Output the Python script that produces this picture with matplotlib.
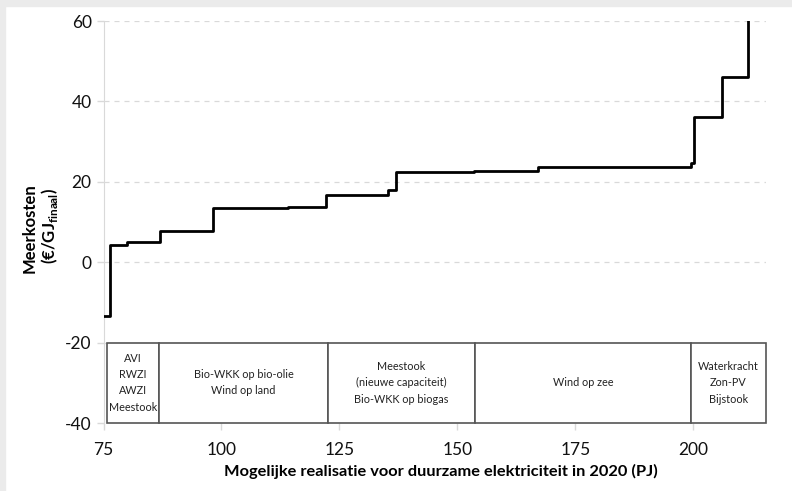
import matplotlib
matplotlib.use("Agg")
import matplotlib.pyplot as plt
from matplotlib.patches import Rectangle

plt.rcParams['font.family'] = ['Lato', 'DejaVu Sans']
plt.rcParams['mathtext.fontset'] = 'custom'
plt.rcParams['mathtext.rm'] = 'Lato'
plt.rcParams['mathtext.bf'] = 'Lato:bold'
plt.rcParams['axes.unicode_minus'] = False

# kostencurve: begin van elk blok (PJ) en meerkosten (EUR/GJ)
x_start = [75.0, 76.4, 79.9, 86.9, 98.3, 114.0, 122.1, 135.2, 136.9, 153.5,
           167.1, 191.8, 199.6, 200.2, 203.8, 206.0, 211.6]
meerkosten = [-13.4, 4.2, 5.1, 7.8, 13.5, 13.7, 16.8, 18.0, 22.4, 22.8,
              23.7, 23.8, 24.6, 36.1, 36.2, 46.0, 60.0]

# categorieblokken onderaan
cat_grenzen = [75.7, 86.7, 122.6, 153.7, 199.5, 215.3]
cat_labels = ["AVI\nRWZI\nAWZI\nMeestook",
              "Bio-WKK op bio-olie\nWind op land",
              "Meestook\n(nieuwe capaciteit)\nBio-WKK op biogas",
              "Wind op zee",
              "Waterkracht\nZon-PV\nBijstook"]

xticks = [75, 100, 125, 150, 175, 200]
yticks = [-40, -20, 0, 20, 40, 60]

fig = plt.figure(figsize=(7.92, 4.91), dpi=100)
fig.patch.set_facecolor('white')
# grijze rand links en boven
fig.patches.append(Rectangle((0, 0), 5 / 792, 1, transform=fig.transFigure,
                             color='#ebebeb', zorder=0))
fig.patches.append(Rectangle((0, 1 - 6 / 491), 1, 6 / 491, transform=fig.transFigure,
                             color='#ebebeb', zorder=0))

ax = fig.add_axes([103.5 / 792, 1 - 423 / 491, 662 / 792, 402 / 491])
ax.set_xlim(75, 215.3)
ax.set_ylim(-40, 60)

for y in yticks:
    ax.axhline(y, color='#d9d9d9', lw=0.9, ls=(0, (4, 4)), zorder=1)

ax.step(x_start, meerkosten, where='post', color='black', lw=2, zorder=3)

for i, lab in enumerate(cat_labels):
    x0, x1 = cat_grenzen[i], cat_grenzen[i + 1]
    ax.add_patch(Rectangle((x0, -40), x1 - x0, 20, facecolor='white',
                           edgecolor='#555555', lw=1.2, zorder=4, clip_on=False))
    ax.text((x0 + x1) / 2, -30, lab, ha='center', va='center', fontsize=7.8,
            linespacing=1.6, color='#222222', zorder=5)

for s in ['top', 'right', 'bottom']:
    ax.spines[s].set_visible(False)
ax.spines['left'].set_color('#d9d9d9')
ax.set_xticks(xticks)
ax.set_yticks(yticks)
ax.tick_params(axis='both', colors='#d9d9d9', labelcolor='#111111', labelsize=12.5,
               length=5, width=1)
ax.tick_params(axis='x', pad=9)

fig.text(30 / 792, 1 - 228 / 491, "Meerkosten", rotation=90, ha='center', va='center',
         fontsize=12, fontweight='bold')
fig.text(49 / 792, 1 - 226 / 491, "(€/GJ$_{\\mathbf{finaal}}$)", rotation=90,
         ha='center', va='center', fontsize=12, fontweight='bold')
fig.text(441 / 792, 1 - 471 / 491,
         "Mogelijke realisatie voor duurzame elektriciteit in 2020 (PJ)",
         ha='center', va='center', fontsize=11.8, fontweight='bold')

fig.savefig("out.png", dpi=100)
